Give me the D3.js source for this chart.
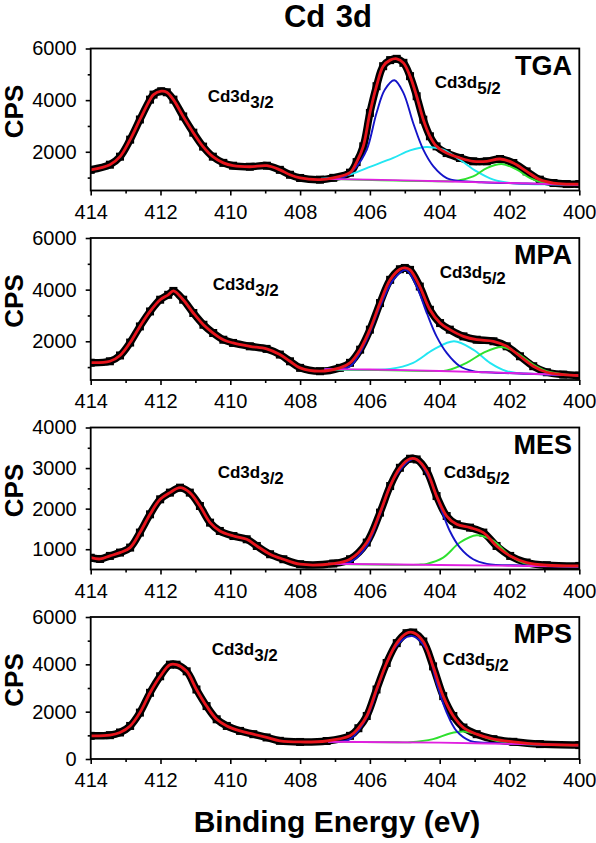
<!DOCTYPE html>
<html><head><meta charset="utf-8">
<script src="https://cdn.jsdelivr.net/npm/d3@7"></script>
<style>
body{margin:0;background:#fff}
svg{display:block}
text{font-family:"Liberation Sans",Arial,Helvetica,sans-serif;fill:#000}
</style>
</head><body><svg id="chart" width="596" height="843"></svg>
<script>
// ---------- categories / ticks ----------
const panelNames = ["TGA", "MPA", "MES", "MPS"];
const xTickLabels = [414, 412, 410, 408, 406, 404, 402, 400];
const xMinorTicks = [413, 411, 409, 407, 405, 403, 401];
const yDomains = [[500, 6000], [500, 6000], [500, 4000], [0, 6000]];
const yMajorTicks = [[2000, 4000, 6000], [2000, 4000, 6000], [1000, 2000, 3000, 4000], [0, 2000, 4000, 6000]];
const yMinorTicks = [[1000, 3000, 5000], [1000, 3000, 5000], [1500, 2500, 3500], [1000, 3000, 5000]];

// ---------- measured spectra [binding energy eV, CPS] ----------
const tgaData = [[414.00,1300],[413.45,1500],[413.16,1810],[412.87,2470],[412.59,3250],[412.30,4020],[412.20,4215],[411.98,4345],[411.82,4305],[411.63,4020],[411.35,3370],[411.06,2740],[410.78,2200],[410.50,1810],[410.20,1570],[409.92,1460],[409.44,1420],[408.95,1460],[408.58,1300],[408.29,1110],[408.00,985],[407.43,920],[407.05,990],[406.57,1190],[406.38,1600],[406.19,2210],[406.00,3505],[405.81,4540],[405.62,5315],[405.42,5550],[405.23,5600],[405.04,5445],[404.85,4930],[404.66,4150],[404.47,3245],[404.28,2600],[404.09,2210],[403.80,1950],[403.42,1760],[403.04,1630],[402.65,1630],[402.27,1720],[401.89,1565],[401.51,1240],[401.13,920],[400.74,790],[400.36,750],[400.00,750]];
const mpaData = [[414.00,1170],[413.45,1225],[413.16,1450],[412.87,1950],[412.59,2575],[412.30,3155],[412.01,3610],[411.78,3800],[411.63,3950],[411.35,3610],[411.06,3095],[410.77,2640],[410.49,2320],[410.20,2060],[409.92,1935],[409.44,1805],[408.96,1705],[408.58,1485],[408.29,1225],[408.00,970],[407.43,840],[406.86,970],[406.57,1165],[406.28,1675],[406.00,2450],[405.71,3480],[405.42,4380],[405.14,4790],[405.00,4840],[404.85,4765],[404.57,4120],[404.28,3220],[403.99,2705],[403.71,2450],[403.32,2190],[402.94,2060],[402.46,2000],[402.08,1805],[401.70,1420],[401.32,1035],[400.93,800],[400.46,710],[400.00,670]];
const mesData = [[414.00,790],[413.73,760],[413.45,835],[413.16,917],[412.87,1040],[412.59,1410],[412.30,1860],[412.01,2230],[411.73,2395],[411.44,2517],[411.16,2395],[410.87,2065],[410.58,1655],[410.30,1450],[409.91,1325],[409.53,1245],[409.24,1080],[408.86,876],[408.48,753],[408.00,630],[407.05,647],[406.57,753],[406.09,1164],[405.71,1902],[405.42,2557],[405.14,3007],[404.85,3230],[404.66,3213],[404.37,2925],[404.09,2310],[403.80,1818],[403.51,1614],[403.13,1532],[402.75,1410],[402.37,1080],[401.98,835],[401.51,672],[400.93,605],[400.00,588]];
const mpsData = [[414.00,978],[413.45,1007],[413.16,1120],[412.87,1397],[412.59,1960],[412.30,2798],[412.01,3495],[411.73,3986],[411.54,3986],[411.25,3705],[410.97,2937],[410.68,2236],[410.39,1678],[410.10,1397],[409.72,1187],[409.34,1049],[408.96,910],[408.58,768],[408.00,720],[407.24,760],[406.57,978],[406.33,1300],[406.09,1817],[405.81,2937],[405.52,4057],[405.23,4896],[404.95,5316],[404.76,5343],[404.47,4966],[404.19,3915],[403.90,2656],[403.61,1817],[403.32,1330],[402.94,1049],[402.46,839],[401.89,726],[401.13,629],[400.00,587]];

// ---------- fitted components [eV, CPS] ----------
const tgaBlue = [[407.4,950],[407.0,965],[406.76,1010],[406.4,1400],[406.09,2080],[405.81,3505],[405.57,4410],[405.30,4770],[405.04,4280],[404.76,3115],[404.47,2080],[404.18,1435],[403.80,980],[403.42,870],[402.80,820],[401.50,770],[400.00,720]];
const tgaCyan = [[407.4,960],[407.0,1000],[406.5,1150],[406.09,1370],[405.33,1760],[404.85,2055],[404.37,2185],[403.90,2080],[403.42,1690],[402.94,1240],[402.46,920],[401.89,775],[401.00,740],[400.00,720]];
const tgaGreen = [[407.4,950],[404.0,860],[403.5,880],[403.04,1045],[402.65,1370],[402.22,1525],[401.79,1305],[401.41,980],[401.03,800],[400.5,740],[400.0,722]];
const tgaMagenta = [[407.4,950],[406.0,920],[404.0,860],[402.0,790],[400.0,720]];
const mpaBlue = [[407.3,925],[406.57,1030],[406.33,1450],[406.09,2060],[405.71,3350],[405.33,4380],[404.97,4765],[404.66,4120],[404.37,3095],[404.09,2190],[403.80,1550],[403.42,1030],[403.04,840],[402.50,790],[401.50,740],[400.00,680]];
const mpaCyan = [[407.3,920],[405.42,930],[404.76,1165],[404.18,1675],[403.59,2000],[403.04,1675],[402.56,1165],[402.08,840],[401.70,760],[400.80,720],[400.00,680]];
const mpaGreen = [[407.3,920],[404.2,850],[403.8,870],[403.23,1165],[402.75,1550],[402.22,1780],[401.79,1550],[401.32,1100],[400.93,840],[400.46,720],[400.00,685]];
const mpaMagenta = [[407.3,920],[406.0,905],[404.0,850],[402.0,770],[400.0,680]];
const mesBlue = [[407.2,645],[406.57,680],[406.09,1080],[405.71,1860],[405.33,2721],[404.71,3230],[404.28,2721],[403.99,2065],[403.71,1450],[403.42,1040],[403.04,753],[402.65,640],[401.50,600],[400.00,575]];
const mesGreen = [[407.2,640],[404.6,620],[404.37,640],[403.90,794],[403.42,1164],[402.94,1343],[402.46,1204],[401.98,835],[401.51,640],[400.80,590],[400.00,575]];
const mesMagenta = [[407.2,640],[404.0,610],[400.0,575]];
const mpsBlue = [[407.2,735],[406.57,839],[406.09,1747],[405.71,3286],[405.33,4615],[404.81,5203],[404.37,4615],[404.09,3218],[403.80,1960],[403.52,1187],[403.13,768],[402.70,690],[401.50,620],[400.00,580]];
const mpsGreen = [[407.2,730],[405.2,705],[404.85,710],[404.19,839],[403.71,1077],[403.32,1160],[402.94,1049],[402.56,839],[402.08,672],[401.50,625],[400.00,580]];
const mpsMagenta = [[407.2,730],[404.0,690],[402.0,640],[400.0,580]];

const spectra = [tgaData, mpaData, mesData, mpsData];
const components = [
  [[tgaCyan,"#22e6f2"],[tgaGreen,"#2ee02e"],[tgaBlue,"#1414c8"],[tgaMagenta,"#e020e0"]],
  [[mpaCyan,"#22e6f2"],[mpaGreen,"#2ee02e"],[mpaBlue,"#1414c8"],[mpaMagenta,"#e020e0"]],
  [[mesGreen,"#2ee02e"],[mesBlue,"#1414c8"],[mesMagenta,"#e020e0"]],
  [[mpsGreen,"#2ee02e"],[mpsBlue,"#1414c8"],[mpsMagenta,"#e020e0"]]
];

// ---------- layout ----------
const left = 90.7, right = 579.3, panelH = 142;
const panelTop = i => 48.5 + 189.5 * i;
// annotation offsets (px, relative to plot top-left)
const ann32 = [[117,53],[122,52],[127,50],[121,38]];
const ann52 = [[344,39],[349,40],[353,50],[352,48]];

const svg = d3.select("#chart");

svg.append("text").attr("x", 328).attr("y", 27).attr("text-anchor", "middle")
  .style("font-size", "31px").style("font-weight", "bold").style("word-spacing", "2px").text("Cd 3d");

svg.append("text").attr("x", 337).attr("y", 832).attr("text-anchor", "middle")
  .style("font-size", "30px").style("font-weight", "bold").text("Binding Energy (eV)");

panelNames.forEach((name, i) => {
  const top = panelTop(i), bottom = top + panelH;
  const x = d3.scaleLinear().domain([414, 400]).range([left, right]);
  const y = d3.scaleLinear().domain(yDomains[i]).range([bottom, top]);
  const g = svg.append("g");

  const clipId = "clip" + i;
  g.append("clipPath").attr("id", clipId).append("rect")
    .attr("x", left).attr("y", top).attr("width", right - left).attr("height", panelH);
  const plot = g.append("g").attr("clip-path", `url(#${clipId})`);

  const line = d3.line().x(d => x(d[0])).y(d => y(d[1])).curve(d3.curveCatmullRom.alpha(0.5));

  // measured data: thick black trace with square markers
  plot.append("path").datum(spectra[i]).attr("d", line)
    .attr("fill", "none").attr("stroke", "#000").attr("stroke-width", 7.5).attr("stroke-linejoin", "round");
  plot.selectAll("rect.pt").data(spectra[i]).join("rect").attr("class", "pt")
    .attr("x", d => x(d[0]) - 4).attr("y", d => y(d[1]) - 4)
    .attr("width", 8).attr("height", 8).attr("fill", "#000");

  // components
  components[i].forEach(([arr, col]) => {
    plot.append("path").datum(arr).attr("d", line)
      .attr("fill", "none").attr("stroke", col).attr("stroke-width", 1.9);
  });

  // envelope fit
  plot.append("path").datum(spectra[i]).attr("d", line)
    .attr("fill", "none").attr("stroke", "#e8141c").attr("stroke-width", 2.8);

  // axes
  g.append("g").attr("transform", `translate(0,${bottom})`)
    .call(d3.axisBottom(x).tickValues(xTickLabels).tickFormat(d3.format("d")).tickSize(5).tickSizeOuter(0).tickPadding(9));
  g.append("g").attr("transform", `translate(0,${bottom})`)
    .call(d3.axisBottom(x).tickValues(xMinorTicks).tickFormat("").tickSize(3).tickSizeOuter(0));
  g.append("g").attr("transform", `translate(${left},0)`)
    .call(d3.axisLeft(y).tickValues(yMajorTicks[i]).tickFormat(d3.format("d")).tickSize(5).tickSizeOuter(0).tickPadding(9));
  g.append("g").attr("transform", `translate(${left},0)`)
    .call(d3.axisLeft(y).tickValues(yMinorTicks[i]).tickFormat("").tickSize(3).tickSizeOuter(0));
  g.selectAll(".domain").remove();
  g.selectAll(".tick line").attr("stroke", "#000").attr("stroke-width", 1.6);
  g.selectAll(".tick text").style("font-size", "20px").style("font-family", "'Liberation Sans', Arial, sans-serif").attr("fill", "#000");

  // frame
  g.append("rect").attr("x", left).attr("y", top).attr("width", right - left).attr("height", panelH)
    .attr("fill", "none").attr("stroke", "#000").attr("stroke-width", 1.8);

  // CPS label
  g.append("text").attr("transform", `translate(23,${top + panelH / 2 - 8}) rotate(-90)`)
    .attr("text-anchor", "middle").style("font-size", "26px").style("font-weight", "bold").text("CPS");

  // sample label
  g.append("text").attr("x", 572).attr("y", top + 26).attr("text-anchor", "end")
    .style("font-size", "27px").style("font-weight", "bold").text(name);

  // peak annotations
  const a1 = g.append("text").attr("x", left + ann32[i][0]).attr("y", top + ann32[i][1])
    .style("font-size", "17px").style("font-weight", "bold");
  a1.append("tspan").text("Cd3d");
  a1.append("tspan").attr("dy", 6).text("3/2");
  const a2 = g.append("text").attr("x", left + ann52[i][0]).attr("y", top + ann52[i][1])
    .style("font-size", "17px").style("font-weight", "bold");
  a2.append("tspan").text("Cd3d");
  a2.append("tspan").attr("dy", 6).text("5/2");
});
</script>
</body></html>
